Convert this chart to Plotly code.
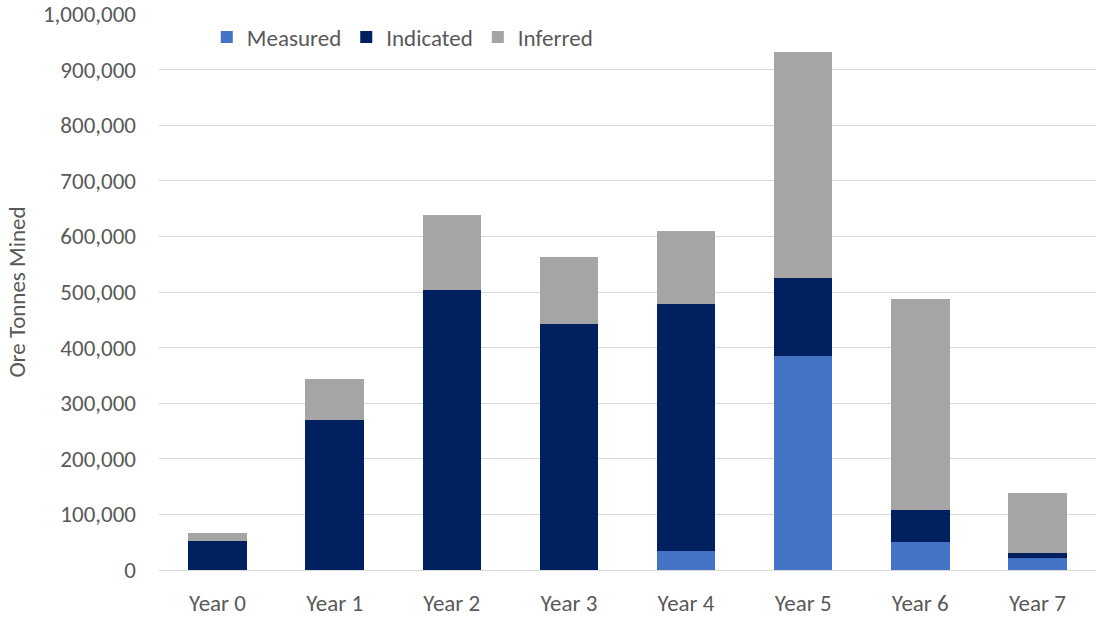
import plotly.graph_objects as go

years = ["Year 0", "Year 1", "Year 2", "Year 3", "Year 4", "Year 5", "Year 6", "Year 7"]
measured = [0, 0, 0, 0, 34000, 385000, 51000, 22000]
indicated = [53000, 270000, 503000, 443000, 445000, 141000, 56500, 9000]
inferred = [14000, 73000, 135000, 120000, 131000, 405000, 380500, 107600]

y_ticks = list(range(0, 1000001, 100000))
y_tick_text = [f"{v:,}" for v in y_ticks]

FONT = "Carlito, Calibri, Lato, sans-serif"
GREY_TEXT = "#595959"
FS = 23

fig = go.Figure()
fig.add_trace(go.Bar(name="Measured", x=years, y=measured, marker_color="#4472C4"))
fig.add_trace(go.Bar(name="Indicated", x=years, y=indicated, marker_color="#002060"))
fig.add_trace(go.Bar(name="Inferred", x=years, y=inferred, marker_color="#A5A5A5"))

fig.update_traces(marker_line_width=0)

fig.update_layout(
    barmode="stack",
    bargap=0.5,
    width=1096,
    height=618,
    margin=dict(l=159, r=0, t=14, b=48, autoexpand=False),
    paper_bgcolor="white",
    plot_bgcolor="white",
    font=dict(family=FONT, size=FS, color=GREY_TEXT),
    legend=dict(
        orientation="h",
        x=0.051,
        y=0.997,
        xanchor="left",
        yanchor="top",
        font=dict(size=FS, color=GREY_TEXT),
        bgcolor="rgba(0,0,0,0)",
        itemwidth=30,
        traceorder="normal",
    ),
    showlegend=True,
)

fig.update_yaxes(
    range=[0, 1000000],
    tickvals=y_ticks,
    ticktext=y_tick_text,
    showgrid=True,
    gridcolor="#D9D9D9",
    gridwidth=1.3,
    zeroline=False,
    showline=False,
    ticks="",
    ticklabelstandoff=22,
    tickfont=dict(size=FS, color=GREY_TEXT),
    title=dict(text="Ore Tonnes Mined", font=dict(size=FS, color=GREY_TEXT), standoff=10),
)

fig.update_xaxes(
    showgrid=False,
    showline=True,
    linecolor="#D9D9D9",
    linewidth=1.3,
    ticks="",
    ticklabelstandoff=12,
    tickfont=dict(size=FS, color=GREY_TEXT),
)

fig.write_html("out.html")
